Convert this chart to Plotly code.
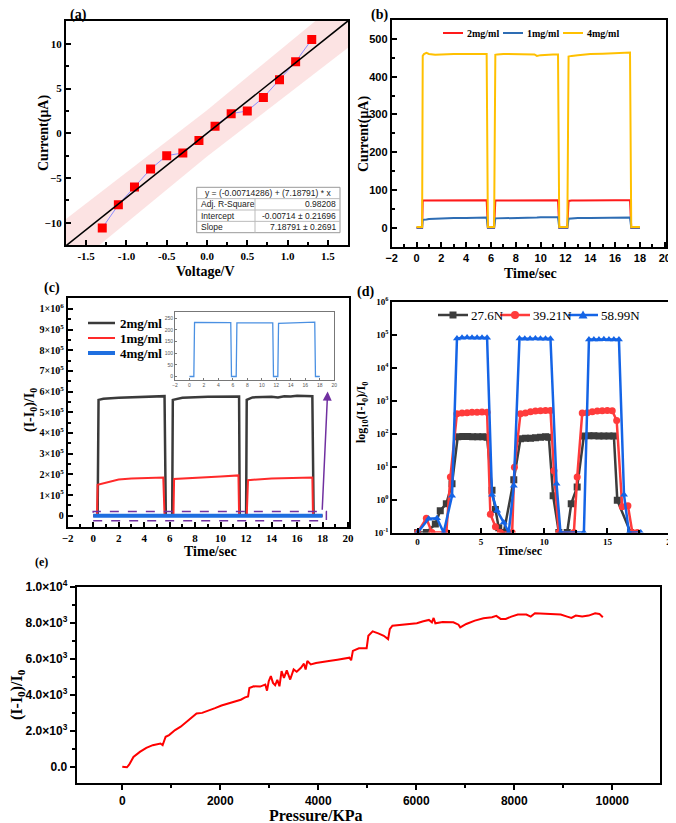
import plotly.graph_objects as go

# the page body has an 8px margin, so the figure is 8px smaller and everything is placed
# in reference pixel coordinates shifted by that offset
OFF = 8
W, H = 676 - OFF, 823 - OFF
SERIF = "Liberation Serif"
SANS = "Liberation Sans"


def px(x):
    return (x - OFF) / W


def py(y):
    return 1 - (y - OFF) / H


# ---------------- (a) I-V data ----------------
volt_a = [-1.3, -1.1, -0.9, -0.7, -0.5, -0.3, -0.1, 0.1, 0.3, 0.5, 0.7, 0.9, 1.1, 1.3]
curr_a = [-10.6, -8.0, -6.0, -4.0, -2.5, -2.2, -0.8, 0.8, 2.2, 2.5, 4.0, 6.0, 8.0, 10.5]
fit_intercept = -0.00714286
fit_slope = 7.18791
fit_x = [-1.75, 1.75]
band_x = [-1.75, 0.0, 1.75]
band_half = [3.0, 2.6, 3.0]
table_rows = [("Adj. R-Square", "0.98208"),
              ("Intercept", "-0.00714 \u00b1 0.21696"),
              ("Slope", "7.18791 \u00b1 0.2691")]

# ---------------- (b) current vs time ----------------
t_b = [0, 0.3, 0.45, 0.5, 0.6, 0.8, 1.0, 1.5, 2, 3, 4, 5, 5.5, 5.65, 5.75, 6.0, 6.25, 6.35, 6.5, 7, 8, 9,
       9.5, 9.7, 10, 11, 11.4, 11.5, 11.6, 12.0, 12.15, 12.25, 12.5, 13, 14, 15, 16, 17, 17.2, 17.3, 17.4, 18]
i_4mg = [2, 2, 2, 455, 460, 463, 460, 458, 459, 460, 460, 459, 459, 460, 2, 2, 2, 458, 459, 460, 460, 459,
         459, 455, 457, 459, 459, 2, 2, 2, 2, 453, 455, 457, 460, 461, 462, 464, 464, 2, 2, 2]
i_2mg = [0, 0, 0, 72, 72, 72, 72, 72, 72, 72, 73, 73, 73, 73, 0, 0, 0, 72, 72, 72, 72, 73,
         73, 73, 73, 73, 73, 0, 0, 0, 0, 71, 72, 72, 73, 73, 73, 73, 73, 0, 0, 0]
i_1mg = [0, 0, 0, 21, 22, 22, 23, 24, 25, 26, 26, 27, 27, 27, 0, 0, 0, 25, 25, 26, 27, 27,
         27, 27, 28, 28, 28, 0, 0, 0, 0, 24, 25, 26, 26, 26, 27, 27, 27, 0, 0, 0]
b_names = ["2mg/ml", "1mg/ml", "4mg/ml"]
b_colors = ["#ff1a1a", "#2e6db4", "#ffc000"]

# ---------------- (c) relative response ----------------
t_c_black = [0, 0.35, 0.42, 0.8, 2, 3, 4, 5, 5.6, 5.7, 6.2, 6.25, 7, 9, 11, 11.45, 11.5, 12.0, 12.05,
             12.5, 14, 14.5, 15, 15.5, 16, 17.2, 17.3, 18]
r_2mg = [0, 0, 5.6e5, 5.65e5, 5.7e5, 5.72e5, 5.75e5, 5.78e5, 5.78e5, 0, 0, 5.6e5, 5.7e5, 5.75e5, 5.76e5,
         5.76e5, 0, 0, 5.6e5, 5.72e5, 5.75e5, 5.72e5, 5.78e5, 5.76e5, 5.8e5, 5.78e5, 0, 0]
t_c_red = [0, 0.3, 0.35, 1, 2, 3, 4, 5.5, 5.6, 6.3, 6.35, 8, 10, 11.4, 11.45, 12.05, 12.15, 14, 17.2, 17.25, 18]
r_1mg = [0, 0, 1.5e5, 1.6e5, 1.75e5, 1.8e5, 1.82e5, 1.85e5, 0, 0, 1.78e5, 1.85e5, 1.9e5, 1.95e5, 0, 0,
         1.72e5, 1.8e5, 1.85e5, 0, 0]
t_c_blue = [0, 0.6, 0.7, 2, 4, 5.7, 5.8, 6.45, 6.55, 9, 11.5, 11.6, 12.2, 12.3, 15, 17.3, 17.4, 18]
r_4mg = [0, 0, 232, 231, 231, 231, 0, 0, 230, 229, 230, 0, 0, 228, 230, 233, 0, 0]
c_names = ["2mg/ml", "1mg/ml", "4mg/ml"]
c_colors = ["#3a3a3a", "#ff2a2a", "#1f6fe0"]
c_widths = [2.5, 2, 4]
c_yticks = [0, 1e5, 2e5, 3e5, 4e5, 5e5, 6e5, 7e5, 8e5, 9e5, 1e6]
c_yticklabels = ["0"] + [f"{k}\u00d710<sup>5</sup>" for k in range(1, 10)] + ["1\u00d710<sup>6</sup>"]

# ---------------- (d) log response, three forces ----------------
t_d_276 = [0, 0.69, 1.40, 1.79, 2.27, 2.72, 3.17, 3.57, 3.96, 4.35, 4.75, 5.15, 5.49, 5.88, 6.15, 6.41, 6.81,
           7.60, 8.13, 8.53, 8.92, 9.32, 9.71, 10.11, 10.37, 10.71, 11.16, 11.82, 12.14, 12.61, 13.14, 13.54,
           13.93, 14.33, 14.72, 15.12, 15.51, 15.78, 16.83]
v_d_276 = [0.1, 0.1, 0.18, 0.46, 0.75, 3.0, 80, 82, 82, 80, 80, 80, 78, 1.9, 0.5, 0.14, 0.1,
           4.0, 70, 72, 72, 75, 78, 80, 78, 1.3, 0.1, 0.1, 0.75, 2.4, 85, 86,
           86, 85, 85, 84, 85, 0.95, 0.1]
t_d_392 = [0, 0.69, 1.13, 2.27, 2.59, 3.11, 3.51, 3.91, 4.30, 4.70, 5.09, 5.49, 5.75, 6.15, 6.54, 7.47, 7.65,
           8.13, 8.52, 8.92, 9.31, 9.71, 10.11, 10.50, 10.77, 11.16, 12.35, 12.61, 13.01, 13.41, 13.80,
           14.20, 14.59, 14.99, 15.38, 15.73, 16.17, 16.62, 16.97, 17.36]
v_d_392 = [0.1, 0.27, 0.1, 0.1, 4.8, 400, 420, 430, 440, 440, 450, 440, 0.36, 0.15, 0.1, 0.1, 9.5,
           400, 420, 460, 480, 490, 500, 500, 7.5, 0.1, 0.1, 4.8, 420, 430, 460,
           480, 490, 500, 490, 250, 0.6, 0.65, 0.1, 0.1]
t_d_590 = [0, 0.87, 1.53, 2.06, 2.72, 3.11, 3.51, 3.91, 4.30, 4.70, 5.09, 5.49, 5.88, 6.28, 6.81, 7.20, 7.60,
           8.05, 8.47, 8.89, 9.31, 9.71, 10.11, 10.50, 10.98, 11.29, 13.14, 13.54, 13.93, 14.33, 14.72,
           15.12, 15.51, 15.91, 16.31, 16.70, 17.63]
v_d_590 = [0.1, 0.26, 0.27, 0.1, 1.3, 7.6e4, 8.0e4, 8.2e4, 8.0e4, 8.1e4, 8.0e4, 8.0e4, 1.4, 0.46, 0.2, 0.1, 2.6,
           7.6e4, 7.5e4, 7.5e4, 7.6e4, 7.5e4, 7.5e4, 7.5e4, 3.0, 0.1, 0.1, 7.2e4, 7.2e4, 7.2e4, 7.3e4,
           7.2e4, 7.2e4, 7.2e4, 1.4, 0.1, 0.1]
d_names = ["27.6N", "39.21N", "58.99N"]
d_colors = ["#3c3c3c", "#ff3b3b", "#1464e6"]
d_symbols = ["square", "circle", "triangle-up"]
d_yticks = [0.1, 1, 10, 100, 1e3, 1e4, 1e5, 1e6]
d_yticklabels = [f"10<sup>{k}</sup>" for k in range(-1, 7)]

# ---------------- (e) response vs pressure ----------------
pressure_e = [0, 96, 140, 228, 359, 491, 622, 710, 780, 824, 885, 955, 1017, 1078, 1192, 1323, 1455, 1516,
              1630, 1762, 1893, 2025, 2156, 2287, 2419, 2507, 2568, 2594, 2682, 2813, 2918, 2954, 2989, 3032,
              3076, 3120, 3164, 3208, 3251, 3300, 3357, 3427, 3497, 3560, 3646, 3707, 3742, 3777, 3847, 3953,
              4084, 4216, 4391, 4522, 4636, 4671, 4706, 4829, 4987, 5022, 5110, 5224, 5337, 5425, 5460, 5513,
              5662, 5881, 6012, 6144, 6258, 6319, 6354, 6389, 6538, 6757, 6862, 6897, 7020, 7195, 7371, 7546,
              7633, 7721, 7826, 7940, 8072, 8247, 8335, 8422, 8598, 8773, 8948, 9080, 9167, 9255, 9386, 9518,
              9650, 9737, 9807]
resp_e = [0, -30, 110, 540, 823, 1047, 1197, 1272, 1290, 1197, 1664, 1758, 1907, 2038, 2225, 2506, 2842, 2955,
          2992, 3104, 3254, 3403, 3516, 3628, 3721, 3852, 3908, 4376, 4469, 4451, 4563, 4226, 4750, 5030,
          4656, 4526, 4825, 4469, 5311, 4937, 5348, 4843, 5404, 5273, 5498, 5722, 5404, 5872, 5685, 5760,
          5834, 5872, 5947, 6003, 6059, 5910, 6433, 6582, 6582, 7274, 7517, 7405, 7274, 7087, 7648, 7835,
          7873, 7891, 7966, 8078, 8153, 8022, 8265, 7966, 8041, 8022, 7891, 7742, 7929, 8115, 8246, 8302,
          8377, 8209, 8209, 8340, 8452, 8452, 8340, 8527, 8490, 8490, 8452, 8340, 8265, 8396, 8340, 8396,
          8527, 8490, 8302]
e_xticks = [0, 2000, 4000, 6000, 8000, 10000]
e_yticks = [0, 2000, 4000, 6000, 8000, 10000]
e_yticklabels = ["0.0", "2.0\u00d710<sup>3</sup>", "4.0\u00d710<sup>3</sup>", "6.0\u00d710<sup>3</sup>",
                 "8.0\u00d710<sup>3</sup>", "1.0\u00d710<sup>4</sup>"]

fig = go.Figure()

# (a)
band_lo = [fit_intercept + fit_slope * x - h for x, h in zip(band_x, band_half)]
band_hi = [fit_intercept + fit_slope * x + h for x, h in zip(band_x, band_half)]
fig.add_trace(go.Scatter(x=band_x, y=band_lo, mode="lines", line=dict(width=0), showlegend=False,
                         xaxis="x", yaxis="y", hoverinfo="skip"))
fig.add_trace(go.Scatter(x=band_x, y=band_hi, mode="lines", line=dict(width=0), fill="tonexty",
                         fillcolor="rgba(250,200,200,0.5)", showlegend=False, xaxis="x", yaxis="y"))
fig.add_trace(go.Scatter(x=volt_a, y=curr_a, mode="lines+markers",
                         line=dict(color="#8c8cff", width=1),
                         marker=dict(symbol="square", size=9, color="#ff0000"),
                         showlegend=False, xaxis="x", yaxis="y"))
fig.add_trace(go.Scatter(x=fit_x, y=[fit_intercept + fit_slope * x for x in fit_x], mode="lines",
                         line=dict(color="black", width=1.5), showlegend=False, xaxis="x", yaxis="y"))

# (b)
for name, vals, col in zip(b_names, [i_2mg, i_1mg, i_4mg], b_colors):
    fig.add_trace(go.Scatter(x=t_b, y=vals, mode="lines", name=name, line=dict(color=col, width=2),
                             showlegend=False, xaxis="x2", yaxis="y2"))

# (c)
for name, tt, vv, col, lw in zip(c_names, [t_c_black, t_c_red, t_c_blue], [r_2mg, r_1mg, r_4mg],
                                 c_colors, c_widths):
    fig.add_trace(go.Scatter(x=tt, y=vv, mode="lines", name=name, line=dict(color=col, width=lw),
                             showlegend=False, xaxis="x3", yaxis="y3"))
fig.add_trace(go.Scatter(x=t_c_blue, y=r_4mg, mode="lines", line=dict(color="#4a90e2", width=1.3),
                         showlegend=False, xaxis="x6", yaxis="y6"))

# (d)
for name, tt, vv, col, sym in zip(d_names, [t_d_276, t_d_392, t_d_590], [v_d_276, v_d_392, v_d_590],
                                  d_colors, d_symbols):
    fig.add_trace(go.Scatter(x=tt, y=vv, mode="lines+markers", name=name,
                             line=dict(color=col, width=2.5), marker=dict(symbol=sym, size=7, color=col),
                             showlegend=False, xaxis="x4", yaxis="y4"))

# (e)
fig.add_trace(go.Scatter(x=pressure_e, y=resp_e, mode="lines", line=dict(color="#ff0000", width=2),
                         showlegend=False, xaxis="x5", yaxis="y5"))

frame = dict(showline=True, mirror=True, linecolor="black", linewidth=2, showgrid=False, zeroline=False,
             ticks="inside", ticklen=5, tickwidth=1.5, tickcolor="black", automargin=False)
serif_tick = dict(family=SERIF, size=11, color="black", weight="bold")
sans_tick = dict(family=SANS, size=11, color="black", weight="bold")
inset_ax = dict(showline=True, mirror=True, linecolor="#777", linewidth=1, showgrid=False, zeroline=False,
                ticks="inside", ticklen=2, tickcolor="#777", automargin=False,
                tickfont=dict(family=SANS, size=5, color="#555"))

fig.update_layout(
    width=W, height=H, margin=dict(l=0, r=0, t=0, b=0, autoexpand=False),
    paper_bgcolor="white", plot_bgcolor="rgba(0,0,0,0)", showlegend=False,
    xaxis=dict(frame, domain=[px(66), px(348)], anchor="y", range=[-1.75, 1.75],
               tickvals=[-1.5, -1, -0.5, 0, 0.5, 1, 1.5],
               ticktext=["-1.5", "-1.0", "-0.5", "0.0", "0.5", "1.0", "1.5"],
               minor=dict(ticks="inside", dtick=0.25, ticklen=3, tickcolor="black"), tickfont=serif_tick),
    yaxis=dict(frame, domain=[py(245), py(20.7)], anchor="x", range=[-12.5, 12.6], dtick=5,
               minor=dict(ticks="inside", dtick=2.5, ticklen=3, tickcolor="black"), tickfont=serif_tick),
    xaxis2=dict(frame, domain=[px(391.7), px(666)], anchor="y2", range=[-2, 20.1], dtick=2,
                minor=dict(ticks="inside", dtick=1, ticklen=3, tickcolor="black"), tickfont=sans_tick),
    yaxis2=dict(frame, domain=[py(246.7), py(20)], anchor="x2", range=[-50, 550], dtick=100,
                minor=dict(ticks="inside", dtick=50, ticklen=3, tickcolor="black"), tickfont=sans_tick),
    xaxis3=dict(frame, domain=[px(67.7), px(349.3)], anchor="y3", range=[-2, 20.1], dtick=2,
                minor=dict(ticks="inside", dtick=1, ticklen=3, tickcolor="black"), tickfont=serif_tick),
    yaxis3=dict(frame, domain=[py(526.7), py(297.7)], anchor="x3", range=[-53000, 1.054e6],
                tickvals=c_yticks, ticktext=c_yticklabels,
                minor=dict(ticks="inside", dtick=5e4, ticklen=3, tickcolor="black"),
                tickfont=dict(serif_tick, size=10)),
    xaxis4=dict(frame, domain=[px(392.3), px(670.7)], anchor="y4", range=[-2, 20], dtick=5,
                minor=dict(ticks="inside", dtick=2.5, ticklen=3, tickcolor="black"),
                tickfont=dict(serif_tick, size=9)),
    yaxis4=dict(frame, domain=[py(532.5), py(301.7)], anchor="x4", type="log", range=[-1, 6],
                tickvals=d_yticks, ticktext=d_yticklabels, tickfont=dict(serif_tick, size=9)),
    xaxis5=dict(frame, domain=[px(76.7), px(660.3)], anchor="y5", range=[-930, 10980],
                tickvals=e_xticks, ticktext=[str(v) for v in e_xticks],
                ticks="outside", minor=dict(ticks="outside", dtick=1000, ticklen=3, tickcolor="black"),
                tickfont=dict(sans_tick, size=12)),
    yaxis5=dict(frame, domain=[py(783.3), py(586.7)], anchor="x5", range=[-920, 10000],
                tickvals=e_yticks, ticktext=e_yticklabels, ticks="outside",
                minor=dict(ticks="outside", dtick=1000, ticklen=3, tickcolor="black"),
                tickfont=dict(sans_tick, size=12)),
    xaxis6=dict(inset_ax, domain=[px(175), px(334.3)], anchor="y6", range=[-2, 20], dtick=2),
    yaxis6=dict(inset_ax, domain=[py(380), py(312.3)], anchor="x6", range=[-15, 275], dtick=50),
)

shapes = []
ann = []


def hline(x0, x1, y, color, width):
    shapes.append(dict(type="line", xref="paper", yref="paper", x0=px(x0), x1=px(x1), y0=py(y), y1=py(y),
                       line=dict(color=color, width=width)))


def text(t, x, y, size=14, angle=0, family=SERIF, bold=True, xanchor="center", color="black"):
    ann.append(dict(text=t, x=px(x), y=py(y), xref="paper", yref="paper", showarrow=False, textangle=angle,
                    xanchor=xanchor, yanchor="middle",
                    font=dict(family=family, size=size, color=color, weight="bold" if bold else "normal")))


# fit table in (a)
tbl_l, tbl_r, tbl_t, tbl_b, col_x = 196.7, 340, 187.3, 232.7, 255
row_h = (tbl_b - tbl_t) / 4
shapes.append(dict(type="rect", xref="paper", yref="paper", x0=px(tbl_l), x1=px(tbl_r), y0=py(tbl_b),
                   y1=py(tbl_t), fillcolor="white", line=dict(color="#999", width=1), layer="above"))
for k in range(1, 4):
    hline(tbl_l, tbl_r, tbl_t + k * row_h, "#bbb", 1)
shapes.append(dict(type="line", xref="paper", yref="paper", x0=px(col_x), x1=px(col_x),
                   y0=py(tbl_b), y1=py(tbl_t + row_h), line=dict(color="#bbb", width=1)))
text("y = (-0.00714286) + (7.18791) * x", (tbl_l + tbl_r) / 2, tbl_t + row_h / 2, 8.5, family=SANS,
     bold=False, color="#222")
for k, (lab, val) in enumerate(table_rows, start=1):
    yc = tbl_t + row_h * (k + 0.5)
    text(lab, tbl_l + 2, yc, 8.5, family=SANS, bold=False, xanchor="left", color="#222")
    text(val, tbl_r - 2, yc, 8.5, family=SANS, bold=False, xanchor="right", color="#222")

# legend of (b)
for name, col, x0 in zip(b_names, b_colors, [443, 503, 563]):
    hline(x0, x0 + 20, 33, col, 2)
    text(name, x0 + 22, 33, 10, xanchor="left")

# legend of (c)
for name, col, lw, y in zip(c_names, c_colors, c_widths, [323, 338, 353]):
    hline(88, 115, y, col, lw)
    text(name, 118, y, 13, xanchor="left")

# legend of (d): line with a marker in the middle
for name, col, sym, x0 in zip(d_names, d_colors, d_symbols, [438, 500, 568]):
    y = 315
    hline(x0, x0 + 30, y, col, 2.5)
    cx = x0 + 15
    if sym == "square":
        shapes.append(dict(type="rect", xref="paper", yref="paper", x0=px(cx - 3.5), x1=px(cx + 3.5),
                           y0=py(y + 3.5), y1=py(y - 3.5), fillcolor=col, line=dict(width=0)))
    elif sym == "circle":
        shapes.append(dict(type="circle", xref="paper", yref="paper", x0=px(cx - 4), x1=px(cx + 4),
                           y0=py(y + 4), y1=py(y - 4), fillcolor=col, line=dict(width=0)))
    else:
        shapes.append(dict(type="path", xref="paper", yref="paper",
                           path=f"M{px(cx - 4.5)},{py(y + 3.5)} L{px(cx + 4.5)},{py(y + 3.5)} "
                                f"L{px(cx)},{py(y - 4.5)} Z", fillcolor=col, line=dict(width=0)))
    text(name, x0 + 31, y, 13, bold=False, xanchor="left")

# dashed box around the 4mg/ml trace in (c)
shapes.append(dict(type="rect", xref="x3", yref="y3", x0=0, x1=18.3, y0=-24000, y1=21000,
                   line=dict(color="#7030a0", width=1.5, dash="dash")))

text("(a)", 78, 15, 14)
text("(b)", 379, 15, 14)
text("(c)", 52, 288, 14)
text("(d)", 365, 292, 14)
text("(e)", 41, 562, 12)
text("Voltage/V", 205, 271, 14)
text("Current(\u03bcA)", 44, 133, 14, -90)
text("Time/sec", 530, 273, 14)
text("Current(\u03bcA)", 364, 134, 14, -90)
text("(I-I<sub>0</sub>)/I<sub>0</sub>", 30, 410, 14, -90)
text("Time/sec", 210, 551, 14)
text("log<sub>10</sub>(I-I<sub>0</sub>)/I<sub>0</sub>", 362, 413, 12, -90)
text("Time/sec", 520, 551, 12)
text("(I-I<sub>0</sub>)/I<sub>0</sub>", 17, 695, 16, -90)
text("Pressure/KPa", 316, 815, 16)

# arrow from the dashed box up to the inset
ann.append(dict(x=18.4, y=6.0e5, ax=17.97, ay=2.2e4, xref="x3", yref="y3", axref="x3", ayref="y3",
                showarrow=True, arrowhead=2, arrowsize=1.2, arrowwidth=1.5, arrowcolor="#7030a0", text=""))

fig.update_layout(shapes=shapes, annotations=ann)

fig.write_html("out.html")
